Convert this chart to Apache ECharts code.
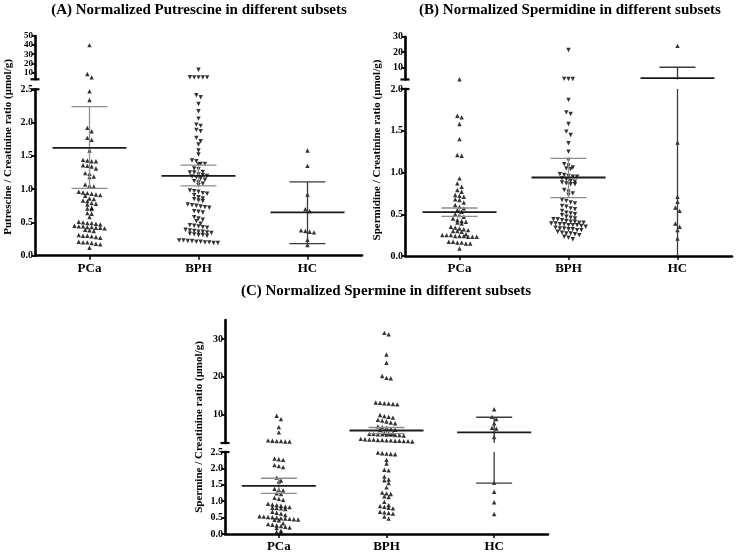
<!DOCTYPE html>
<html>
<head>
<meta charset="utf-8">
<script src="https://cdn.jsdelivr.net/npm/echarts@6/dist/echarts.min.js"></script>
<style>
html, body { margin: 0; padding: 0; background: #fff; }
#chart { width: 739px; height: 554px; }
</style>
</head>
<body>
<div id="chart"></div>
<script>
var categories = ['PCa', 'BPH', 'HC'];

// (A) putrescine / creatinine
var putPCa = [40, 8.3, 4.6, 2.47, 2.34, 1.92, 1.87, 1.77, 1.74, 1.58, 1.44, 1.43, 1.42, 1.42, 1.36, 1.35, 1.34, 1.31, 1.24, 1.23, 1.19, 1.18, 1.07, 1.05, 1.04, 0.96, 0.95, 0.94, 0.93, 0.92, 0.91, 0.90, 0.86, 0.85, 0.83, 0.82, 0.79, 0.78, 0.77, 0.72, 0.71, 0.70, 0.64, 0.63, 0.58, 0.51, 0.50, 0.49, 0.49, 0.48, 0.47, 0.45, 0.44, 0.44, 0.43, 0.43, 0.42, 0.42, 0.41, 0.39, 0.38, 0.37, 0.31, 0.30, 0.30, 0.29, 0.28, 0.27, 0.21, 0.20, 0.20, 0.19, 0.18, 0.17, 0.12];
var putBPH = [13, 4.8, 4.6, 4.6, 4.6, 4.6, 2.41, 2.38, 2.28, 2.17, 2.06, 1.97, 1.95, 1.89, 1.87, 1.77, 1.72, 1.67, 1.58, 1.52, 1.43, 1.42, 1.38, 1.38, 1.37, 1.31, 1.30, 1.26, 1.25, 1.25, 1.22, 1.21, 1.20, 1.19, 1.18, 1.16, 1.14, 1.12, 1.10, 1.08, 1.06, 0.98, 0.97, 0.96, 0.94, 0.93, 0.91, 0.88, 0.86, 0.85, 0.83, 0.82, 0.77, 0.76, 0.75, 0.74, 0.73, 0.72, 0.67, 0.66, 0.65, 0.58, 0.56, 0.54, 0.52, 0.48, 0.46, 0.45, 0.44, 0.43, 0.42, 0.39, 0.38, 0.37, 0.36, 0.36, 0.35, 0.34, 0.33, 0.32, 0.31, 0.31, 0.30, 0.23, 0.23, 0.22, 0.22, 0.21, 0.21, 0.20, 0.20, 0.19, 0.19];
var putHC = [1.58, 1.35, 0.92, 0.70, 0.67, 0.38, 0.37, 0.36, 0.35, 0.24, 0.16];
var putMean = [1.62, 1.20, 0.65];
var putUpper = [2.24, 1.36, 1.11];
var putLower = [1.01, 1.05, 0.18];
var putTicksLow = [0, 0.5, 1.0, 1.5, 2.0, 2.5];
var putTicksHigh = [10, 20, 30, 40, 50];

// (B) spermidine / creatinine
var spdPCa = [2.2, 1.68, 1.66, 1.58, 1.40, 1.21, 1.20, 0.93, 0.87, 0.83, 0.79, 0.77, 0.73, 0.72, 0.71, 0.68, 0.67, 0.64, 0.61, 0.59, 0.57, 0.55, 0.53, 0.50, 0.49, 0.47, 0.45, 0.43, 0.42, 0.41, 0.40, 0.39, 0.35, 0.34, 0.33, 0.32, 0.31, 0.30, 0.30, 0.29, 0.26, 0.25, 0.25, 0.25, 0.24, 0.24, 0.24, 0.23, 0.23, 0.23, 0.17, 0.17, 0.16, 0.16, 0.15, 0.15, 0.09];
var spdBPH = [21.3, 2.4, 2.3, 2.3, 1.87, 1.72, 1.70, 1.58, 1.49, 1.45, 1.35, 1.25, 1.15, 1.10, 1.08, 1.06, 1.05, 1.04, 0.98, 0.97, 0.96, 0.95, 0.95, 0.93, 0.92, 0.90, 0.89, 0.88, 0.87, 0.86, 0.86, 0.79, 0.77, 0.75, 0.73, 0.67, 0.66, 0.64, 0.63, 0.60, 0.59, 0.57, 0.56, 0.54, 0.52, 0.51, 0.50, 0.49, 0.47, 0.46, 0.45, 0.44, 0.44, 0.43, 0.42, 0.41, 0.41, 0.40, 0.40, 0.39, 0.39, 0.38, 0.38, 0.37, 0.37, 0.37, 0.36, 0.35, 0.34, 0.33, 0.33, 0.32, 0.32, 0.31, 0.31, 0.29, 0.28, 0.27, 0.27, 0.26, 0.25, 0.23, 0.22, 0.20];
var spdHC = [24, 1.36, 0.71, 0.65, 0.58, 0.54, 0.39, 0.35, 0.31, 0.21];
var spdMean = [0.525, 0.94, 2.9];
var spdUpper = [0.575, 1.17, 10];
var spdLower = [0.475, 0.70, -4.3];
var spdTicksLow = [0, 0.5, 1.0, 1.5, 2.0];
var spdTicksHigh = [10, 20, 30];

// (C) spermine / creatinine
var spmPCa = [9.7, 8.8, 6.7, 5.3, 3.2, 3.1, 3.0, 3.0, 2.9, 2.9, 2.30, 2.28, 2.26, 2.10, 2.07, 2.04, 1.72, 1.63, 1.60, 1.38, 1.35, 1.33, 1.24, 1.22, 1.10, 1.07, 1.04, 0.92, 0.90, 0.88, 0.86, 0.84, 0.82, 0.80, 0.79, 0.78, 0.76, 0.68, 0.65, 0.62, 0.58, 0.54, 0.53, 0.52, 0.51, 0.50, 0.48, 0.47, 0.46, 0.45, 0.44, 0.43, 0.42, 0.33, 0.30, 0.28, 0.26, 0.24, 0.22, 0.20, 0.18, 0.10, 0.06, 0.03];
var spmBPH = [31.6, 31.2, 25.9, 23.7, 20.2, 19.7, 19.6, 13.2, 13.0, 12.8, 12.7, 12.9, 13.1, 9.9, 9.6, 9.4, 9.2, 8.6, 8.4, 8.2, 7.9, 7.7, 6.9, 6.7, 6.5, 6.2, 6.0, 5.9, 5.1, 5.0, 5.0, 4.9, 4.9, 4.8, 4.8, 4.7, 4.7, 4.6, 4.6, 4.5, 3.6, 3.5, 3.4, 3.4, 3.3, 3.3, 3.2, 3.2, 3.1, 3.1, 3.0, 3.0, 2.9, 2.48, 2.46, 2.45, 2.44, 2.43, 2.26, 2.15, 1.96, 1.94, 1.75, 1.66, 1.64, 1.55, 1.42, 1.26, 1.24, 1.22, 1.15, 1.13, 0.98, 0.88, 0.85, 0.83, 0.80, 0.78, 0.68, 0.66, 0.64, 0.62, 0.53, 0.47];
var spmHC = [11.4, 9.4, 8.8, 7.7, 6.5, 6.3, 4.1, 1.56, 1.29, 0.97, 0.61];
var spmMean = [1.47, 5.8, 5.3];
var spmUpper = [1.70, 6.6, 9.3];
var spmLower = [1.24, 5.0, 1.55];
var spmTicksLow = [0, 0.5, 1.0, 1.5, 2.0, 2.5];
var spmTicksHigh = [10, 20, 30];

var FONT = '"Liberation Serif", "DejaVu Serif", serif';

var panels = [
    {
        title: '(A) Normalized Putrescine in different subsets',
        yName: 'Putrescine / Creatinine ratio (μmol/g)',
        groups: [putPCa, putBPH, putHC], down: [false, true, false],
        mean: putMean, hi: putUpper, lo: putLower,
        low: { min: 0, max: 2.5, ticks: putTicksLow },
        high: { min: 2.5, max: 50, ticks: putTicksHigh },
        left: 35, width: 327, highTop: 36, highH: 43.3, lowTop: 89.3, lowH: 166.4,
        titleX: 199, titleY: 10, nameX: 8, nameY: 147, highFont: 9
    },
    {
        title: '(B) Normalized Spermidine in different subsets',
        yName: 'Spermidine / Creatinine ratio (μmol/g)',
        groups: [spdPCa, spdBPH, spdHC], down: [false, true, false],
        mean: spdMean, hi: spdUpper, lo: spdLower,
        low: { min: 0, max: 2.0, ticks: spdTicksLow },
        high: { min: 2.0, max: 30, ticks: spdTicksHigh },
        left: 405, width: 327, highTop: 36.7, highH: 42.8, lowTop: 89, lowH: 167,
        titleX: 570, titleY: 10, nameX: 377, nameY: 150, highFont: 10
    },
    {
        title: '(C) Normalized Spermine in different subsets',
        yName: 'Spermine / Creatinine ratio (μmol/g)',
        groups: [spmPCa, spmBPH, spmHC], down: [false, false, false],
        mean: spmMean, hi: spmUpper, lo: spmLower,
        low: { min: 0, max: 2.5, ticks: spmTicksLow },
        high: { min: 2.5, max: 35, ticks: spmTicksHigh },
        left: 225, width: 323, highTop: 320, highH: 123, lowTop: 452, lowH: 82,
        titleX: 386, titleY: 291, nameX: 199, nameY: 427, highFont: 10
    }
];

// pixel y of a value, used only to arrange the swarm rows
function pixelY(p, v) {
    if (v > p.low.max) return p.highTop + p.highH * (p.high.max - v) / (p.high.max - p.high.min);
    return p.lowTop + p.lowH * (p.low.max - v) / (p.low.max - p.low.min);
}

// group points into rows and centre each row, GraphPad style
function swarm(p, vals, step, rowGap) {
    var pts = vals.map(function (v) { return { v: v, y: pixelY(p, v) }; });
    pts.sort(function (a, b) { return a.y - b.y; });
    var rows = [], cur = null;
    pts.forEach(function (pt) {
        if (cur && pt.y - cur[0].y < rowGap) cur.push(pt);
        else { cur = [pt]; rows.push(cur); }
    });
    var out = [];
    rows.forEach(function (r) {
        r.forEach(function (pt, i) { out.push([(i - (r.length - 1) / 2) * step, pt.v]); });
    });
    return out;
}

function renderSeg(params, api) {
    var kind = api.value(4);
    var a = api.coord([api.value(0), api.value(1)]);
    if (kind === 2) {
        return { type: 'line', shape: { x1: a[0] - 4.5, y1: a[1], x2: a[0] + 4.5, y2: a[1] },
            style: { stroke: '#000', lineWidth: 2.2 } };
    }
    var b = api.coord([api.value(2), api.value(3)]);
    var color = kind === 0 ? '#1a1a1a' : (kind === 3 ? '#3a3a3a' : '#8c8c8c');
    return { type: 'line', shape: { x1: a[0], y1: a[1], x2: b[0], y2: b[1] },
        style: { stroke: color, lineWidth: kind === 0 ? 1.8 : 1.3 } };
}

var grids = [], xAxes = [], yAxes = [], series = [], graphics = [];

panels.forEach(function (p, pi) {
    var gHigh = pi * 2, gLow = pi * 2 + 1;
    grids.push({ left: p.left, top: p.highTop, width: p.width, height: p.highH });
    grids.push({ left: p.left, top: p.lowTop, width: p.width, height: p.lowH });

    xAxes.push({ gridIndex: gHigh, type: 'value', min: 0, max: 3, show: false });
    xAxes.push({
        gridIndex: gLow, type: 'value', min: 0, max: 3,
        axisLine: { show: true, onZero: false, lineStyle: { color: '#000', width: 2.6 } },
        axisTick: { show: true, length: 4, customValues: [0.5, 1.5, 2.5], lineStyle: { color: '#000', width: 1.5 } },
        axisLabel: {
            customValues: [0.5, 1.5, 2.5], margin: 6, color: '#000',
            fontFamily: FONT, fontWeight: 'bold', fontSize: 13,
            formatter: function (v) { return categories[Math.floor(v)]; }
        },
        splitLine: { show: false }
    });

    function yAxis(gi, seg, size, fmt) {
        return {
            gridIndex: gi, type: 'value', min: seg.min, max: seg.max,
            axisLine: { show: true, onZero: false, lineStyle: { color: '#000', width: 2.6 } },
            axisTick: { show: true, length: 3, customValues: seg.ticks, lineStyle: { color: '#000', width: 1.8 } },
            axisLabel: {
                customValues: seg.ticks, margin: 2, color: '#000', hideOverlap: false, interval: 0,
                showMinLabel: true, showMaxLabel: true, lineHeight: size,
                fontFamily: FONT, fontWeight: 'bold', fontSize: size, formatter: fmt
            },
            splitLine: { show: false }
        };
    }
    yAxes.push(yAxis(gHigh, p.high, p.highFont, function (v) { return String(v); }));
    yAxes.push(yAxis(gLow, p.low, 10, function (v) { return v.toFixed(1); }));

    var unit = p.width / 3;
    var highData = [], lowData = [];
    p.groups.forEach(function (vals, ci) {
        var pts = swarm(p, vals, 4.3, 3.6);
        var hi = [], lo = [];
        pts.forEach(function (d) {
            var item = [ci + 0.5 + d[0] / unit, d[1]];
            if (d[1] > p.low.max) hi.push(item); else lo.push(item);
        });
        [[hi, gHigh], [lo, gLow]].forEach(function (s) {
            series.push({
                type: 'scatter', xAxisIndex: s[1], yAxisIndex: s[1], data: s[0],
                symbol: 'triangle', symbolSize: [4.4, 4.4], symbolRotate: p.down[ci] ? 180 : 0,
                itemStyle: { color: '#000' }, silent: true, z: 2
            });
        });

        // mean, error bars and their connecting line, split over the two segments
        var c = ci + 0.5, mw = 37 / unit, ew = 18 / unit;
        var errKind = ci === 2 ? 3 : 1;
        [[p.high, highData, true], [p.low, lowData, false]].forEach(function (s) {
            var seg = s[0], out = s[1], isHigh = s[2];
            function inSeg(y) { return isHigh ? (y > seg.min && y <= seg.max) : (y >= seg.min && y <= seg.max); }
            var a = Math.max(Math.min(p.lo[ci], p.hi[ci]), seg.min);
            var b = Math.min(Math.max(p.lo[ci], p.hi[ci]), seg.max);
            if (a < b) out.push([c, a, c, b, errKind]);
            [p.hi[ci], p.lo[ci]].forEach(function (y) {
                if (inSeg(y)) out.push([c - ew, y, c + ew, y, errKind]);
            });
            if (inSeg(p.mean[ci])) out.push([c - mw, p.mean[ci], c + mw, p.mean[ci], 0]);
        });
    });
    // break caps on the y-axis
    highData.push([0, p.high.min, 0, p.high.min, 2]);
    lowData.push([0, p.low.max, 0, p.low.max, 2]);

    series.push({ type: 'custom', xAxisIndex: gHigh, yAxisIndex: gHigh, data: highData, renderItem: renderSeg, silent: true, z: 3 });
    series.push({ type: 'custom', xAxisIndex: gLow, yAxisIndex: gLow, data: lowData, renderItem: renderSeg, silent: true, z: 3 });

    graphics.push({
        type: 'text', x: p.titleX, y: p.titleY,
        style: { text: p.title, font: 'bold 15px ' + FONT, fill: '#000', align: 'center', verticalAlign: 'middle' }
    });
    graphics.push({
        type: 'text', x: p.nameX, y: p.nameY, rotation: Math.PI / 2,
        style: { text: p.yName, font: 'bold 11px ' + FONT, fill: '#000', align: 'center', verticalAlign: 'middle' }
    });
});

var chart = echarts.init(document.getElementById('chart'), null, { renderer: 'canvas' });
chart.setOption({
    backgroundColor: '#fff',
    animation: false,
    grid: grids,
    xAxis: xAxes,
    yAxis: yAxes,
    series: series,
    graphic: graphics
});
</script>
</body>
</html>
